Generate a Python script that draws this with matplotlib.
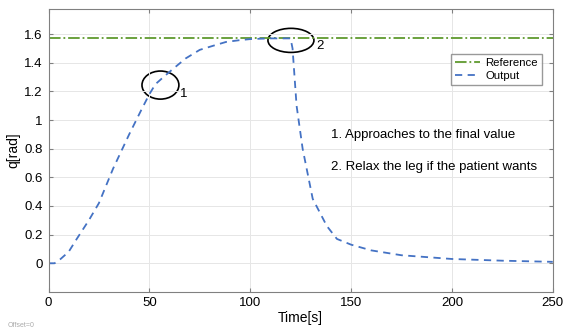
import numpy as np
import matplotlib.pyplot as plt
from matplotlib.patches import Ellipse
from matplotlib.ticker import FuncFormatter

plt.rcParams['font.family'] = ['Liberation Sans', 'DejaVu Sans']

# output joint angle
t_out = [0, 3, 6, 10, 14, 20, 25, 32, 40, 46, 50, 53, 57, 62, 68, 75, 82, 88, 95, 100, 110,
         118, 120, 121, 123, 126, 131, 138, 143, 150, 160, 175, 200, 225, 250]
q_out = [0, 0, 0.03, 0.08, 0.17, 0.3, 0.42, 0.66, 0.9, 1.07, 1.18, 1.25, 1.3, 1.36, 1.43,
         1.49, 1.52, 1.545, 1.558, 1.565, 1.57, 1.57, 1.57, 1.5, 1.1, 0.8, 0.45, 0.26, 0.17,
         0.13, 0.09, 0.056, 0.03, 0.018, 0.01]
t_ref = [0, 250]
q_ref = [1.5708, 1.5708]

notes = ["1. Approaches to the final value", "2. Relax the leg if the patient wants"]

fig = plt.figure(figsize=(5.64, 3.34), dpi=100)
ax = fig.add_axes([0.086, 0.126, 0.894, 0.847])

ax.plot(t_ref, q_ref, '-.', color='#5f9a2e', lw=1.3, label='Reference')
ax.plot(t_out, q_out, '--', color='#4472c4', lw=1.3, label='Output', dashes=(4, 3))

ax.add_patch(Ellipse((55.5, 1.244), 18.3, 0.196, fill=False, ec='black', lw=1.2))
ax.add_patch(Ellipse((120.2, 1.556), 22.8, 0.168, fill=False, ec='black', lw=1.2))
ax.text(65, 1.18, '1', fontsize=9.5, va='center')
ax.text(133, 1.52, '2', fontsize=9.5, va='center')

ax.text(140, 0.895, notes[0], fontsize=9.5, va='center')
ax.text(140, 0.67, notes[1], fontsize=9.5, va='center')

ax.set_xlim(0, 250)
ax.set_ylim(-0.2, 1.775)
ax.set_xticks([0, 50, 100, 150, 200, 250])
ax.set_yticks(np.arange(0, 1.61, 0.2))
ax.yaxis.set_major_formatter(FuncFormatter(lambda v, p: '%g' % round(v, 1)))
ax.grid(True, color='#e6e6e6', lw=0.7)
ax.tick_params(direction='in', top=True, right=True, labelsize=9.5, color='#808080',
               length=3, pad=4)
for s in ax.spines.values():
    s.set_color('#808080')

ax.set_xlabel('Time[s]', fontsize=10, labelpad=1)
ax.set_ylabel('q[rad]', fontsize=10, labelpad=3)

ax.legend(loc='upper right', bbox_to_anchor=(0.978, 0.84), fontsize=8.2, frameon=True,
          fancybox=False, edgecolor='#808080', handlelength=2.2, borderpad=0.35,
          labelspacing=0.25, handletextpad=0.4, borderaxespad=0)

fig.text(0.014, 0.022, 'Offset=0', fontsize=5, color='#aaaaaa')

fig.savefig('out.png', dpi=100)
